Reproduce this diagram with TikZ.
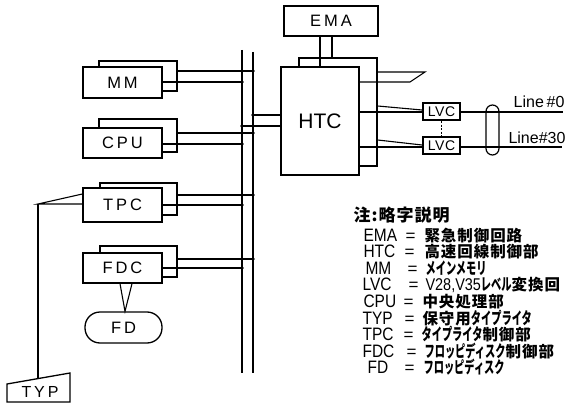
\documentclass[tikz,border=0pt]{standalone}
\usepackage{fontspec}
\setmainfont{Liberation Sans}
\newfontfamily\lab{Liberation Sans}[LetterSpace=18]
\newfontfamily\lvcf{Liberation Sans}[LetterSpace=4]
\newfontfamily\leglat{Liberation Sans}[FakeStretch=0.86]
\newfontfamily\latn{Liberation Sans}[FakeStretch=0.85]
\newfontfamily\jp{Noto Sans CJK JP}[LetterSpace=6]
\newfontfamily\jpn{Noto Sans CJK JP}[FakeStretch=0.62]
\newcommand\kn[1]{{\jpn\bfseries\fontsize{16.5}{16.5}\selectfont #1}}
\newcommand\kj[1]{{\jp\bfseries #1}}
\begin{document}
\begin{tikzpicture}[x=1pt,y=-1pt,line width=1.1pt,
  box/.style={draw,fill=white,line width=1.3pt,inner sep=0pt,
    font=\lab\fontsize{16.5}{16.5}\selectfont},
  lvcbox/.style={draw,fill=white,line width=1.9pt,inner sep=0pt,
    minimum width=37,minimum height=17,font=\lvcf\fontsize{14}{14}\selectfont},
  dot/.style={circle,fill,inner sep=0pt,minimum size=3.6pt},
  abbr/.style={anchor=base west,inner sep=0pt,font=\leglat\fontsize{18}{18}\selectfont},
  eqs/.style={anchor=base west,inner sep=0pt,font=\fontsize{17}{17}\selectfont},
  jtext/.style={anchor=base west,inner sep=0pt,font=\fontsize{15.5}{15.5}\selectfont}]
\useasboundingbox (0,0) rectangle (570,409);

% bus
\coordinate (bl1) at (242,50); \coordinate (bl2) at (242,373);
\coordinate (br1) at (253,52); \coordinate (br2) at (253,373);
\draw (bl1) -- (bl2);
\draw (br1) -- (br2);

% MM
\node[box,minimum width=78,minimum height=30] (mmb) at (138,76) {};
\node[box,minimum width=79,minimum height=31] (mm) at (122.5,82.5) {MM};
% CPU
\node[box,minimum width=78,minimum height=33] (cpub) at (138,135.5) {};
\node[box,minimum width=79,minimum height=30] (cpu) at (122.5,143) {CPU};
% TPC
\node[box,minimum width=77,minimum height=32] (tpcb) at (138.5,199) {};
\node[box,minimum width=79,minimum height=34] (tpc) at (122.5,205) {TPC};
% FDC
\node[box,minimum width=77,minimum height=31] (fdcb) at (138.5,261.5) {};
\node[box,minimum width=79,minimum height=30] (fdc) at (122.5,268) {FDC};
% FD
\node[box,rounded corners=15,minimum width=77,minimum height=31] (fd) at (123.5,327.5) {FD};
% HTC
\node[box,minimum width=78,minimum height=108] (htcb) at (338,112) {};
\node[box,minimum width=78,minimum height=108,font=\fontsize{21}{21}\selectfont] (htc) at (320,121) {HTC};
% EMA
\node[box,minimum width=94,minimum height=30] (ema) at (331,21) {EMA};

% bus taps
\coordinate (mmR) at (253,71);  \coordinate (mmL) at (242,82);
\coordinate (htR) at (253,115); \coordinate (htL) at (242,126);
\coordinate (cpuR) at (253,133); \coordinate (cpuL) at (242,144);
\coordinate (tpR) at (253,195); \coordinate (tpL) at (242,205);
\coordinate (fdR) at (253,259); \coordinate (fdL) at (242,268);
\draw (mmb.east |- mmR) -- (mmR);
\draw (mm.east |- mmL) -- (mmL);
\draw (cpub.east |- cpuR) -- (cpuR);
\draw (cpu.east |- cpuL) -- (cpuL);
\draw (tpcb.east |- tpR) -- (tpR);
\draw (tpc.east |- tpL) -- (tpL);
\draw (fdcb.east |- fdR) -- (fdR);
\draw (fdc.east |- fdL) -- (fdL);
\draw (htR) -- (htR -| htc.west);
\draw (htL) -- (htL -| htc.west);
\foreach \p in {mmR,mmL,htR,htL,cpuR,cpuL,tpR,tpL,fdR,fdL}
  \node[dot] at (\p) {};

% EMA to HTC
\draw (ema.south -| 320,0) -- (htc.north -| 320,0);
\draw (ema.south -| 332,0) -- (htcb.north -| 332,0);

% HTC right side
\coordinate (s1) at (425,72); \coordinate (s2) at (410,82);
\draw (htcb.east |- s1) -- (s1) -- (s2) -- (s2 -| htc.east);
\node[lvcbox] (lvc1) at (441.5,111.5) {LVC};
\node[lvcbox] (lvc2) at (441.5,145.5) {LVC};
\draw (htcb.east |- 0,106) -- (lvc1.west |- 0,110);
\draw (htc.east |- 0,112) -- (lvc1.west |- 0,112);
\draw (htcb.east |- 0,140) -- (lvc2.west |- 0,145);
\draw (htc.east |- 0,147) -- (lvc2.west |- 0,147);
\draw[line width=1pt,dash pattern=on 2pt off 1.6pt] (lvc1.south) -- (lvc2.north);
\coordinate (e0) at (563,112); \coordinate (e30) at (562,147);
\draw (lvc1.east |- e0) -- (e0);
\draw (lvc2.east |- e30) -- (e30);
\node[draw,line width=1.2pt,rounded corners=6.5,minimum width=13,minimum height=50,inner sep=0pt] (cap) at (492.5,130) {};
\node[anchor=base east,inner sep=0pt,font=\fontsize{16}{16}\selectfont] (l0) at (565,108) {Line\,\#0};
\node[anchor=base east,inner sep=0pt,font=\fontsize{16}{16}\selectfont] (l30) at (566,143) {Line\#30};

% TPC to TYP
\coordinate (tj) at (38,204);
\coordinate (typtop) at (38,378.6);
\draw (tpc.west |- 0,194) -- (tj) -- (tpc.west |- 0,204);
\draw (tj) -- (typtop);
\draw[line width=1.3pt] (7,384) -- (70,373) -- (70,402) -- (7,402) -- cycle;
\node[inner sep=0pt,font=\lab\fontsize{16}{16}\selectfont] (typ) at (40,392) {TYP};

% FDC to FD
\draw (fdc.south -| 120,0) -- (fd.north -| 125,0) -- (fdc.south -| 132,0);

% legend
\node[anchor=base west,inner sep=0pt,font=\fontsize{17}{17}\selectfont] (title) at (353,221) {\kj{注:略字説明}};
\node[abbr] (a1) at (363,241) {EMA};   \node[eqs] (q1) at (405,241) {=}; \node[jtext] (j1) at (424,241) {\kj{緊急制御回路}};
\node[abbr] (a2) at (363,257.6) {HTC}; \node[eqs] (q2) at (404,257.6) {=}; \node[jtext] (j2) at (424,257.6) {\kj{高速回線制御部}};
\node[abbr] (a3) at (365,274.2) {MM};  \node[eqs] (q3) at (407,274.2) {=}; \node[jtext] (j3) at (425,274.2) {\kn{メインメモリ}};
\node[abbr] (a4) at (362,290.8) {LVC}; \node[eqs] (q4) at (408,290.8) {=}; \node[jtext] (j4) at (425,290.8) {{\latn\fontsize{17}{17}\selectfont V28,V35}\kn{レベル}\kj{変換回}};
\node[abbr] (a5) at (363,307.4) {CPU}; \node[eqs] (q5) at (403,307.4) {=}; \node[jtext] (j5) at (422,307.4) {\kj{中央処理部}};
\node[abbr] (a6) at (362,324) {TYP};   \node[eqs] (q6) at (404,324) {=}; \node[jtext] (j6) at (422,324) {\kj{保守用}\kn{タイプライタ}};
\node[abbr] (a7) at (362,340.6) {TPC}; \node[eqs] (q7) at (403,340.6) {=}; \node[jtext] (j7) at (421,340.6) {\kn{タイプライタ}\kj{制御部}};
\node[abbr] (a8) at (362,357.2) {FDC}; \node[eqs] (q8) at (406,357.2) {=}; \node[jtext] (j8) at (424,357.2) {\kn{フロッピディスク}\kj{制御部}};
\node[abbr] (a9) at (367,373.8) {FD};  \node[eqs] (q9) at (404,373.8) {=}; \node[jtext] (j9) at (423,373.8) {\kn{フロッピディスク}};
\end{tikzpicture}
\end{document}
